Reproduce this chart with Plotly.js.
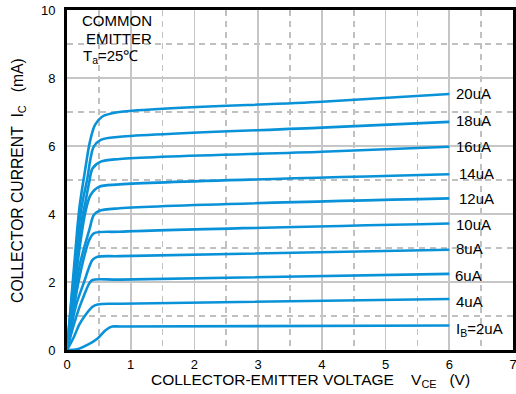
<!DOCTYPE html>
<html>
<head>
<meta charset="utf-8">
<script src="https://cdn.plot.ly/plotly-3.0.1.min.js"></script>
<style>html,body{margin:0;padding:0;background:#fff;}#chart{width:516px;height:394px;}</style>
</head>
<body>
<div id="chart"></div>
<script>
// Base-current curve labels
const curveLabels = ["I<sub>B</sub>=2uA", "4uA", "6uA", "8uA", "10uA", "12uA", "14uA", "16uA", "18uA", "20uA"];

// V_CE (V) sample points and I_C (mA) values, one pair per curve
const vce2  = [0, 0.16, 0.32, 0.48, 0.61, 0.71, 0.83, 6.0];
const ic2   = [0, 0.02, 0.15, 0.34, 0.59, 0.69, 0.69, 0.72];
const vce4  = [0, 0.11, 0.19, 0.29, 0.40, 0.48, 0.83, 6.0];
const ic4   = [0, 0.39, 0.74, 1.03, 1.27, 1.34, 1.36, 1.50];
const vce6  = [0, 0.10, 0.19, 0.27, 0.35, 0.40, 0.83, 6.0];
const ic6   = [0, 0.70, 1.23, 1.62, 1.96, 2.06, 2.07, 2.24];
const vce8  = [0, 0.14, 0.27, 0.35, 0.40, 0.48, 0.83, 6.0];
const ic8   = [0, 1.30, 2.01, 2.45, 2.65, 2.74, 2.76, 2.95];
const vce10 = [0, 0.18, 0.29, 0.35, 0.42, 0.83, 6.0];
const ic10  = [0, 2.00, 2.89, 3.24, 3.43, 3.48, 3.72];
const vce12 = [0, 0.20, 0.35, 0.42, 0.50, 0.83, 6.0];
const ic12  = [0, 2.50, 3.53, 3.97, 4.09, 4.17, 4.46];
const vce14 = [0, 0.22, 0.29, 0.37, 0.50, 0.83, 6.0];
const ic14  = [0, 3.30, 4.07, 4.56, 4.80, 4.87, 5.17];
const vce16 = [0, 0.24, 0.29, 0.35, 0.40, 0.53, 0.83, 4.0, 6.0];
const ic16  = [0, 3.90, 4.36, 4.95, 5.34, 5.54, 5.62, 5.83, 5.98];
const vce18 = [0, 0.22, 0.32, 0.37, 0.42, 0.53, 0.83, 4.0, 6.0];
const ic18  = [0, 4.10, 5.05, 5.64, 5.98, 6.18, 6.27, 6.54, 6.71];
const vce20 = [0, 0.16, 0.20, 0.28, 0.36, 0.44, 0.55, 0.79, 4.0, 6.0];
const ic20  = [0, 3.53, 4.26, 5.24, 6.13, 6.62, 6.86, 6.99, 7.30, 7.53];

// Axis ticks
const xTicks = [0, 1, 2, 3, 4, 5, 6, 7];
const yTicks = [0, 2, 4, 6, 8, 10];

const series = [
  [vce2, ic2], [vce4, ic4], [vce6, ic6], [vce8, ic8], [vce10, ic10],
  [vce12, ic12], [vce14, ic14], [vce16, ic16], [vce18, ic18], [vce20, ic20]
];

const FONT = "Liberation Sans, Arial, Helvetica, sans-serif";
const BLUE = "#0a92d8";

const traces = series.map(function (s, i) {
  return {
    x: s[0], y: s[1], type: "scatter", mode: "lines",
    line: {color: BLUE, width: 2.6, shape: "spline", smoothing: 0.9},
    hoverinfo: "skip", showlegend: false, name: curveLabels[i]
  };
});

// label offsets (pixels) – layout only
const labelXShift = [5, 5, 4, 5, 5, 8, 8, 5, 5, 5];
const labelYShift = [-4, -2, -2, 1, -1, 0, 1, 0, 1, 0];

const annotations = series.map(function (s, i) {
  const xs = s[0], ys = s[1];
  return {
    x: xs[xs.length - 1], y: ys[ys.length - 1], xref: "x", yref: "y",
    text: curveLabels[i], showarrow: false, xanchor: "left", yanchor: "middle",
    xshift: labelXShift[i], yshift: labelYShift[i],
    font: {family: FONT, size: 15, color: "#000"}
  };
});

annotations.push(
  {x: 0.112, y: 0.97, xref: "paper", yref: "paper", text: "COMMON", showarrow: false,
   xanchor: "center", yanchor: "middle", font: {family: FONT, size: 15, color: "#000"}},
  {x: 0.117, y: 0.9155, xref: "paper", yref: "paper", text: "EMITTER", showarrow: false,
   xanchor: "center", yanchor: "middle", font: {family: FONT, size: 15, color: "#000"}},
  {x: 0.031, y: 0.862, xref: "paper", yref: "paper", text: "T<sub>a</sub>=25\u2103", showarrow: false,
   xanchor: "left", yanchor: "middle", font: {family: FONT, size: 15, color: "#000"}},
  {x: 0.546, y: -0.09, xref: "paper", yref: "paper",
   text: "COLLECTOR-EMITTER VOLTAGE&nbsp;&nbsp;&nbsp;&nbsp;V<sub>CE</sub>&nbsp;&nbsp;&nbsp;(V)",
   showarrow: false, xanchor: "center", yanchor: "middle", font: {family: FONT, size: 15.5, color: "#000"}},
  {x: -0.11, y: 0.5, xref: "paper", yref: "paper", textangle: -90,
   text: "COLLECTOR CURRENT&nbsp;&nbsp;I<sub>C</sub>&nbsp;&nbsp;&nbsp;(mA)",
   showarrow: false, xanchor: "center", yanchor: "middle", font: {family: FONT, size: 15.7, color: "#000"}}
);

const layout = {
  width: 516, height: 394,
  margin: {l: 67, r: 3, t: 10, b: 44, pad: 0},
  paper_bgcolor: "#fff", plot_bgcolor: "#fff",
  showlegend: false,
  xaxis: {
    range: [0, 7], tickvals: xTicks, ticktext: xTicks.map(String),
    showgrid: true, gridcolor: "#c6c6c6", gridwidth: 1.6,
    minor: {dtick: 0.5, tick0: 0, showgrid: true, gridcolor: "#c0c0c0", gridwidth: 1.6, griddash: "6px,5px", ticks: ""},
    showline: true, linecolor: "#000", linewidth: 3, mirror: true,
    ticks: "", zeroline: false, ticklabelstandoff: 0, ticklabeloverflow: "allow",
    tickfont: {family: FONT, size: 13, color: "#000"}
  },
  yaxis: {
    range: [0, 10], tickvals: yTicks, ticktext: yTicks.map(String),
    showgrid: true, gridcolor: "#c6c6c6", gridwidth: 1.6,
    minor: {dtick: 1, tick0: 0, showgrid: true, gridcolor: "#c0c0c0", gridwidth: 1.6, griddash: "6px,5px", ticks: ""},
    showline: true, linecolor: "#000", linewidth: 3, mirror: true,
    ticks: "", zeroline: false, ticklabelstandoff: 6, ticklabeloverflow: "allow",
    tickfont: {family: FONT, size: 13, color: "#000"}
  },
  annotations: annotations
};

Plotly.newPlot("chart", traces, layout, {staticPlot: true, displayModeBar: false});
</script>
</body>
</html>
